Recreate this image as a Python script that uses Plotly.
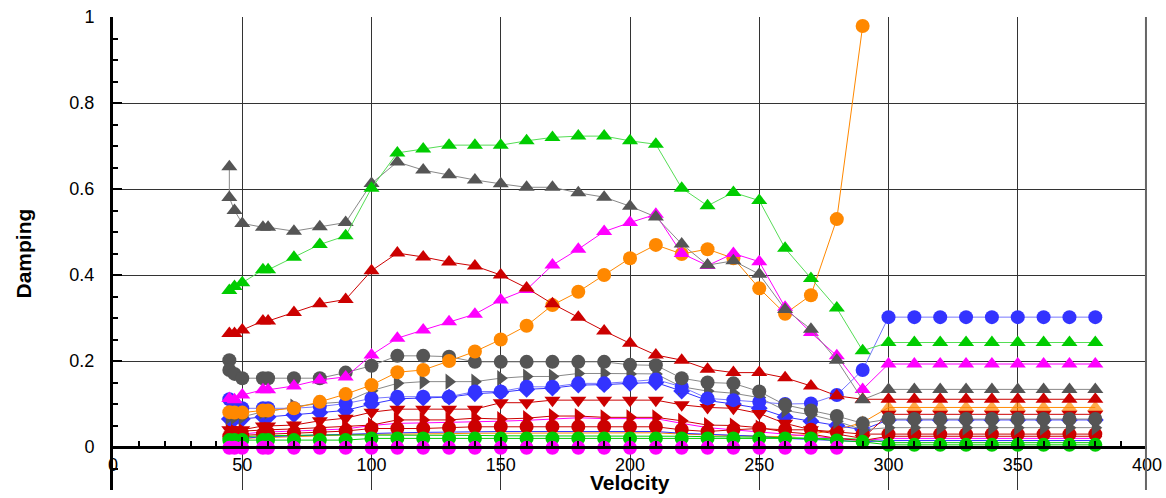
import plotly.graph_objects as go

# ---------------- data ----------------
VEL = [45, 47, 50, 58, 60, 70, 80, 90, 100, 110, 120, 130, 140, 150, 160, 170, 180, 190,
       200, 210, 220, 230, 240, 250, 260, 270, 280, 290, 300, 310, 320, 330, 340, 350, 360, 370, 380]
VEL_EXTRA = [45] + VEL  # two modes have a second point at the first velocity

gray_tri = [0.652, 0.58, 0.55, 0.52, 0.511, 0.511, 0.502, 0.512, 0.522, 0.613, 0.663, 0.644, 0.633, 0.621, 0.612,
            0.604, 0.604, 0.591, 0.581, 0.56, 0.535, 0.472, 0.423, 0.433, 0.402, 0.32, 0.274, 0.202, 0.11,
            0.134, 0.134, 0.134, 0.134, 0.134, 0.134, 0.134, 0.134, 0.134]
green_tri = [0.364, 0.373, 0.382, 0.412, 0.412, 0.441, 0.471, 0.491, 0.602, 0.684, 0.693, 0.702, 0.702, 0.702,
             0.712, 0.72, 0.723, 0.723, 0.712, 0.704, 0.602, 0.561, 0.592, 0.573, 0.462, 0.392, 0.323, 0.224,
             0.243, 0.243, 0.243, 0.243, 0.243, 0.243, 0.243, 0.243, 0.243]
red_tri = [0.264, 0.264, 0.272, 0.293, 0.293, 0.313, 0.333, 0.343, 0.41, 0.451, 0.442, 0.43, 0.421, 0.40, 0.37,
           0.333, 0.302, 0.27, 0.241, 0.214, 0.202, 0.181, 0.173, 0.173, 0.161, 0.142, 0.119, 0.111,
           0.111, 0.111, 0.111, 0.111, 0.111, 0.111, 0.111, 0.111, 0.111]
magenta_tri = [0.113, 0.11, 0.121, 0.133, 0.133, 0.142, 0.156, 0.163, 0.214, 0.253, 0.272, 0.291, 0.309, 0.342,
               0.366, 0.423, 0.46, 0.501, 0.522, 0.541, 0.45, 0.422, 0.45, 0.431, 0.325, 0.266, 0.212, 0.134,
               0.193, 0.193, 0.193, 0.193, 0.193, 0.193, 0.193, 0.193, 0.193]
orange_circ = [0.081, 0.08, 0.08, 0.085, 0.085, 0.09, 0.105, 0.123, 0.144, 0.174, 0.179, 0.20, 0.222, 0.25, 0.282,
               0.33, 0.361, 0.40, 0.439, 0.47, 0.449, 0.46, 0.439, 0.369, 0.31, 0.353, 0.53, 0.979,
               None, None, None, None, None, None, None, None, None]
gray_circ = [0.202, 0.179, 0.17, 0.16, 0.16, 0.16, 0.16, 0.16, 0.173, 0.189, 0.212, 0.212, 0.21, 0.198, 0.198,
             0.198, 0.198, 0.198, 0.198, 0.191, 0.19, 0.16, 0.15, 0.148, 0.129, 0.098, 0.085, 0.072, 0.055,
             0.065, 0.065, 0.065, 0.065, 0.065, 0.065, 0.065, 0.065, 0.065]
gray_rtri = [0.07, 0.07, 0.07, 0.082, 0.082, 0.094, 0.101, 0.105, 0.131, 0.148, 0.152, 0.152, 0.152, 0.16, 0.164,
             0.164, 0.171, 0.171, 0.17, 0.17, 0.14, 0.13, 0.125, 0.115, 0.085, 0.075, 0.06, 0.04,
             0.045, 0.045, 0.045, 0.045, 0.045, 0.045, 0.045, 0.045, 0.045]
blue_circ = [0.111, 0.10, 0.09, 0.09, 0.09, 0.09, 0.094, 0.101, 0.113, 0.117, 0.117, 0.117, 0.129, 0.129, 0.14,
             0.14, 0.148, 0.148, 0.152, 0.157, 0.14, 0.113, 0.109, 0.105, 0.10, 0.101, 0.121, 0.179,
             0.302, 0.302, 0.302, 0.302, 0.302, 0.302, 0.302, 0.302, 0.302]
blue_diam = [0.065, 0.065, 0.065, 0.07, 0.07, 0.075, 0.08, 0.085, 0.10, 0.112, 0.114, 0.116, 0.124, 0.127, 0.134,
             0.137, 0.144, 0.145, 0.148, 0.15, 0.13, 0.108, 0.10, 0.09, 0.07, 0.06, 0.05, 0.04,
             0.063, 0.063, 0.063, 0.063, 0.063, 0.063, 0.063, 0.063, 0.063]
red_dtri = [0.04, 0.04, 0.04, 0.049, 0.049, 0.051, 0.061, 0.067, 0.081, 0.088, 0.088, 0.088, 0.088, 0.103, 0.103,
            0.109, 0.109, 0.109, 0.109, 0.109, 0.098, 0.092, 0.09, 0.078, 0.055, 0.04, 0.03, 0.02,
            0.076, 0.076, 0.076, 0.076, 0.076, 0.076, 0.076, 0.076, 0.076]
red_rtri = [0.035, 0.035, 0.037, 0.04, 0.04, 0.042, 0.045, 0.047, 0.051, 0.063, 0.063, 0.063, 0.067, 0.065, 0.067,
            0.072, 0.072, 0.069, 0.069, 0.069, 0.061, 0.051, 0.05, 0.045, 0.035, 0.03, 0.02, 0.015,
            0.025, 0.025, 0.025, 0.025, 0.025, 0.025, 0.025, 0.025, 0.025]
red_circ = [0.025, 0.025, 0.027, 0.03, 0.03, 0.032, 0.035, 0.037, 0.043, 0.043, 0.043, 0.045, 0.047, 0.047, 0.047,
            0.047, 0.047, 0.047, 0.047, 0.047, 0.04, 0.036, 0.04, 0.043, 0.04, 0.04, 0.035, 0.03,
            0.03, 0.03, 0.03, 0.03, 0.03, 0.03, 0.03, 0.03, 0.03]
green_circ = [0.016, 0.016, 0.016, 0.016, 0.016, 0.016, 0.016, 0.016, 0.02, 0.02, 0.02, 0.02, 0.02, 0.02, 0.02,
              0.02, 0.02, 0.02, 0.02, 0.02, 0.02, 0.02, 0.02, 0.02, 0.02, 0.02, 0.015, 0.012,
              0.005, 0.005, 0.005, 0.005, 0.005, 0.005, 0.005, 0.005, 0.005]
magenta_circ = [-0.002, -0.002, -0.002, -0.002, -0.002, -0.002, -0.002, -0.002, -0.002, -0.002, -0.002, -0.002,
                -0.002, -0.002, -0.002, -0.002, -0.002, -0.002, -0.002, -0.002, -0.002, -0.002, -0.002, -0.002,
                -0.002, -0.002, -0.002, None, None, None, None, None, None, None, None, None, None]
orange_tri = [0.02, 0.02, 0.02, 0.022, 0.022, 0.024, 0.026, 0.028, 0.03, 0.03, 0.03, 0.031, 0.032, 0.032, 0.032,
              0.033, 0.033, 0.033, 0.033, 0.033, 0.03, 0.028, 0.026, 0.025, 0.024, 0.03, 0.04, 0.057,
              0.092, 0.092, 0.092, 0.092, 0.092, 0.092, 0.092, 0.092, 0.092]
magenta_thin = [0.03, 0.03, 0.03, 0.035, 0.035, 0.037, 0.04, 0.042, 0.05, 0.055, 0.056, 0.057, 0.058, 0.06, 0.062,
                0.065, 0.068, 0.066, 0.066, 0.066, 0.055, 0.045, 0.04, 0.035, 0.03, 0.025, 0.02, 0.015,
                0.02, 0.02, 0.02, 0.02, 0.02, 0.02, 0.02, 0.02, 0.02]
blue_thin = [0.02, 0.02, 0.02, 0.024, 0.024, 0.026, 0.028, 0.03, 0.032, 0.033, 0.034, 0.035, 0.036, 0.036, 0.036,
             0.036, 0.037, 0.037, 0.037, 0.036, 0.032, 0.03, 0.028, 0.025, 0.02, 0.018, 0.015, 0.012,
             0.015, 0.015, 0.015, 0.015, 0.015, 0.015, 0.015, 0.015, 0.015]
green_thin = [0.024, 0.024, 0.024, 0.026, 0.026, 0.027, 0.028, 0.028, 0.027, 0.027, 0.027, 0.027, 0.027, 0.026,
              0.026, 0.026, 0.025, 0.025, 0.025, 0.025, 0.025, 0.024, 0.024, 0.023, 0.022, 0.02, 0.02, 0.018,
              0.01, 0.01, 0.01, 0.01, 0.01, 0.01, 0.01, 0.01, 0.01]

X_TICKS = [0, 50, 100, 150, 200, 250, 300, 350, 400]
Y_TICKS = [0, 0.2, 0.4, 0.6, 0.8, 1]
Y_TICK_TEXT = ["0", "0.2", "0.4", "0.6", "0.8", "1"]
X_TITLE = "Velocity"
Y_TITLE = "Damping"

# ---------------- styles ----------------
GRAY = "#555555"
GREEN = "#00cc00"
RED = "#cc0000"
MAGENTA = "#ff00ff"
ORANGE = "#ff8800"
BLUE = "#3333ff"
TRI = 14
CIRC = 14

fig = go.Figure()


def add(x, y, color, symbol, size, lw=1.0, line_color=None):
    fig.add_trace(go.Scatter(
        x=x, y=y, mode="lines+markers",
        line=dict(color=line_color or color, width=lw),
        marker=dict(color=color, symbol=symbol, size=size, line=dict(width=0)),
        connectgaps=False, showlegend=False, hoverinfo="x+y"))


orange_tri_sizes = [TRI if v >= 290 else 0 for v in VEL]
fig.add_trace(go.Scatter(x=VEL, y=orange_tri, mode="lines+markers",
                         line=dict(color=ORANGE, width=1),
                         marker=dict(color=ORANGE, symbol="triangle-up", size=orange_tri_sizes, line=dict(width=0)),
                         showlegend=False))
add(VEL, blue_thin, BLUE, "circle", 3)
add(VEL, green_thin, GREEN, "circle", 3)
add(VEL, magenta_thin, MAGENTA, "triangle-right", 7)
add(VEL, blue_diam, BLUE, "diamond", 13)
add(VEL, red_rtri, RED, "triangle-right", TRI)
add(VEL, red_dtri, RED, "triangle-down", TRI)
add(VEL, red_circ, RED, "circle", CIRC)
add(VEL, gray_rtri, GRAY, "triangle-right", TRI, line_color="#888888")
add(VEL, blue_circ, BLUE, "circle", CIRC, line_color="#7777ff")
add(VEL_EXTRA, gray_circ, GRAY, "circle", CIRC, line_color="#888888")
add(VEL, orange_circ, ORANGE, "circle", CIRC)
add(VEL, magenta_tri, MAGENTA, "triangle-up", TRI)
add(VEL, red_tri, RED, "triangle-up", TRI)
add(VEL_EXTRA, gray_tri, GRAY, "triangle-up", TRI, line_color="#888888")
add(VEL, green_tri, GREEN, "triangle-up", TRI, line_color="#55dd55")
add(VEL, green_circ, GREEN, "circle", CIRC)
add(VEL, magenta_circ, MAGENTA, "circle", CIRC)

FONT = "Arial, Liberation Sans, sans-serif"
Y_MIN, Y_MAX = -0.1, 1.0
x_axis_pos = (0 - Y_MIN) / (Y_MAX - Y_MIN)
PLOT_H = 498 - 17 - 8
PLOT_W = 1166 - 113 - 19

fig.update_layout(
    width=1166, height=498,
    margin=dict(l=113, r=19, t=17, b=8, autoexpand=False),
    paper_bgcolor="white", plot_bgcolor="white",
    font=dict(family=FONT, size=18, color="black"),
    xaxis=dict(
        range=[0, 400], anchor="free", position=x_axis_pos, automargin=False,
        tickvals=X_TICKS, ticks="inside", ticklen=9, tickwidth=2, tickcolor="black",
        minor=dict(dtick=10, tick0=0, ticks="inside", ticklen=5, tickcolor="black", showgrid=False),
        showgrid=True, gridcolor="#333333", gridwidth=1,
        showline=True, linecolor="black", linewidth=3, zeroline=False,
        tickfont=dict(size=18, family=FONT),
    ),
    yaxis=dict(
        range=[Y_MIN, Y_MAX], domain=[0, 1], automargin=False,
        tickvals=Y_TICKS, ticktext=Y_TICK_TEXT, ticks="inside", ticklen=9, tickwidth=2, tickcolor="black",
        minor=dict(dtick=0.05, tick0=0, ticks="inside", ticklen=5, tickcolor="black", showgrid=False),
        showgrid=True, gridcolor="#333333", gridwidth=1,
        showline=True, linecolor="black", linewidth=3, zeroline=False,
        tickfont=dict(size=18, family=FONT), ticklabelstandoff=12,
    ),
    shapes=[
        # right frame line of the plot area (grid line at the last x tick)
        dict(type="line", xref="x domain", yref="y domain", x0=0.999, x1=0.999, y0=0, y1=1,
             line=dict(color="#666666", width=2), layer="above"),
    ],
    annotations=[
        dict(text="<b>" + X_TITLE + "</b>", xref="paper", yref="paper", x=(630 - 113) / PLOT_W,
             y=(490 - 482) / PLOT_H,
             xanchor="center", yanchor="middle", showarrow=False, font=dict(size=21, family=FONT)),
        dict(text="<b>" + Y_TITLE + "</b>", xref="paper", yref="paper", x=-(113 - 23) / PLOT_W, y=0.5,
             xanchor="center", yanchor="middle", textangle=-90, showarrow=False,
             font=dict(size=21, family=FONT)),
    ],
)

fig.write_html("out.html", config={"displayModeBar": False},
               post_script="document.body.style.margin='0';document.body.style.overflow='hidden';")
